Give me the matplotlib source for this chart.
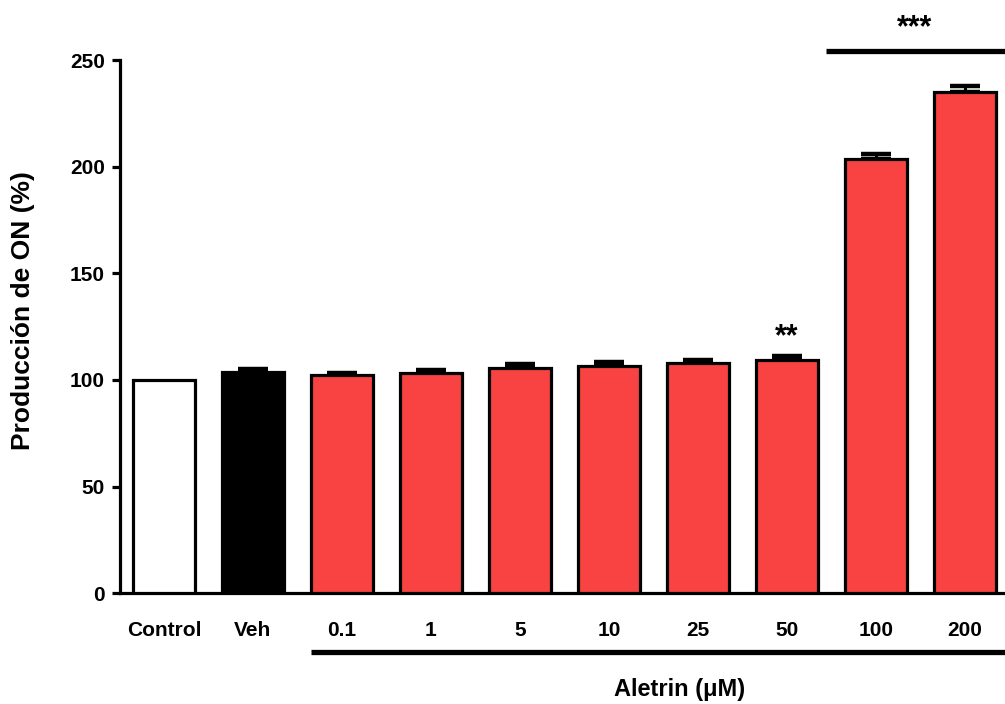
import numpy as np
import matplotlib
matplotlib.use("Agg")
import matplotlib.pyplot as plt
import matplotlib.transforms as mtransforms

# data
groups = ['Control', 'Veh', '0.1', '1', '5', '10', '25', '50', '100', '200']
values = [100, 103.9, 102.3, 103.4, 105.5, 106.6, 107.9, 109.3, 203.5, 235.2]
errors = [0, 1.1, 1.1, 1.3, 2.0, 1.8, 1.4, 2.0, 2.6, 2.7]
fills = ['white', 'black'] + ['#F94343'] * 8
y_ticks = [0, 50, 100, 150, 200, 250]

plt.rcParams['font.family'] = ['Liberation Sans', 'DejaVu Sans']

fig = plt.figure(figsize=(10.05, 7.04), dpi=100)
ax = fig.add_axes([120 / 1005, 110.7 / 704, 883 / 1005, 533.3 / 704])

x = np.arange(len(groups))
ax.bar(x, values, width=0.7, color=fills, edgecolor='black', linewidth=2.3, zorder=3)

# upper error bars only (control has none)
ax.errorbar(x[1:], values[1:], yerr=[np.zeros(len(x) - 1), errors[1:]],
            fmt='none', ecolor='black', elinewidth=2.2, capsize=10.5,
            capthick=3.2, zorder=2)

ax.set_xlim(-0.494, 9.43)
ax.set_ylim(0, 250)
ax.set_yticks(y_ticks)
ax.set_yticklabels([str(t) for t in y_ticks], fontsize=15, fontweight='bold')
ax.set_xticks(x)
ax.set_xticklabels(groups, fontsize=15, fontweight='bold')
ax.tick_params(axis='y', length=6, width=2.3, pad=5)
ax.tick_params(axis='x', length=0, pad=20)

for side in ['top', 'right']:
    ax.spines[side].set_visible(False)
for side in ['left', 'bottom']:
    ax.spines[side].set_linewidth(2.3)

ax.set_ylabel('Producción de ON (%)', fontsize=19, fontweight='bold')
ax.yaxis.set_label_coords(-0.096, 0.53)

trans = mtransforms.blended_transform_factory(ax.transData, ax.transAxes)

# significance markers
ax.text(7, 116.5, '**', ha='center', va='baseline', fontsize=22, fontweight='bold')
ax.plot([7.44, 9.5], [1.016, 1.016], color='black', linewidth=3.8,
        transform=trans, clip_on=False, solid_capstyle='butt')
ax.text(8.44, 1.045, '***', ha='center', va='baseline', fontsize=22,
        fontweight='bold', transform=trans)

# treatment bracket below the axis
ax.plot([1.65, 9.5], [-0.11, -0.11], color='black', linewidth=3.8,
        transform=trans, clip_on=False, solid_capstyle='butt')
ax.text(5.8, -0.181, 'Aletrin (μM)', ha='center', va='center', fontsize=17,
        fontweight='bold', transform=trans)

fig.savefig('out.png', dpi=100)
